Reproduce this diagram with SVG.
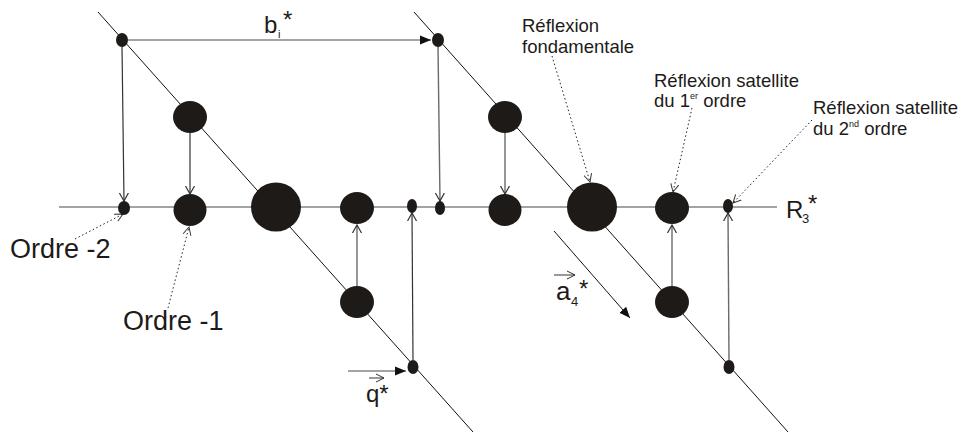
<svg xmlns="http://www.w3.org/2000/svg" width="959" height="433" viewBox="0 0 959 433">
<style>
.dot{fill:#1e1a18}
.diag{stroke:#111;stroke-width:1;fill:none}
.axis{stroke:#858585;stroke-width:1.6;fill:none}
.vk{stroke:#333;stroke-width:1.2;fill:none;marker-end:url(#open)}
.vg{stroke:#6a6a6a;stroke-width:1.4;fill:none;marker-end:url(#open)}
.hg{stroke:#858585;stroke-width:1.6;fill:none;marker-end:url(#fill)}
.lead{stroke:#222;stroke-width:1;stroke-dasharray:1.5 2.5;fill:none;marker-end:url(#openthin)}
.small{stroke:#333;stroke-width:1;fill:none;marker-end:url(#openthin)}
text{font-family:"Liberation Sans",Arial,sans-serif;fill:#1e1a18}
.lbl{font-size:18.5px}
.ord{font-size:27px}
.m{font-size:24px}
</style>
<defs>
<marker id="open" markerUnits="userSpaceOnUse" markerWidth="12" markerHeight="12" refX="8" refY="5" orient="auto" viewBox="0 0 12 10">
<path d="M0,0.5 L8,5 L0,9.5" fill="none" stroke="#333" stroke-width="1.2"/>
</marker>
<marker id="openthin" markerUnits="userSpaceOnUse" markerWidth="12" markerHeight="12" refX="8" refY="5" orient="auto" viewBox="0 0 12 10">
<path d="M0,1 L8,5 L0,9" fill="none" stroke="#333" stroke-width="1"/>
</marker>
<marker id="fill" markerUnits="userSpaceOnUse" markerWidth="12" markerHeight="12" refX="11" refY="4.5" orient="auto" viewBox="0 0 12 9">
<path d="M0,0 L11,4.5 L0,9 z" fill="#111"/>
</marker>
</defs>
<g id="connectors">
<line class="axis" x1="59" y1="207" x2="777" y2="207"/>
<line class="diag" x1="98" y1="12" x2="473" y2="432"/>
<line class="diag" x1="414" y1="12" x2="788" y2="432"/>
<line class="hg" x1="128" y1="40" x2="431" y2="40"/>
<line class="hg" x1="348" y1="371" x2="406" y2="371"/>
<line class="vk" x1="122" y1="46" x2="124" y2="201"/>
<line class="vk" x1="190" y1="133" x2="190" y2="194"/>
<line class="vg" x1="438" y1="46" x2="440" y2="201"/>
<line class="vg" x1="505" y1="133" x2="505" y2="194"/>
<line class="vg" x1="357" y1="286" x2="357" y2="225"/>
<line class="vk" x1="413" y1="360" x2="412" y2="213"/>
<line class="vg" x1="672" y1="286" x2="672" y2="225"/>
<line class="vg" x1="729" y1="360" x2="728" y2="213"/>
<line class="diag" x1="554" y1="231" x2="630" y2="318" marker-end="url(#fill)"/>
<line class="small" x1="369" y1="378" x2="384" y2="378"/>
<line class="small" x1="554" y1="275" x2="575" y2="275"/>
<line class="lead" x1="552" y1="56" x2="590" y2="182"/>
<line class="lead" x1="692" y1="108" x2="673" y2="192"/>
<line class="lead" x1="812" y1="120" x2="733" y2="203"/>
<line class="lead" x1="75" y1="239" x2="123" y2="214"/>
<line class="lead" x1="168" y1="308" x2="189" y2="227"/>
</g>
<g id="node-top-left"><ellipse class="dot" cx="122" cy="40" rx="6" ry="7"/></g>
<g id="node-top-right"><ellipse class="dot" cx="438" cy="40" rx="6" ry="7"/></g>
<g id="node-left-m1"><ellipse class="dot" cx="190" cy="117" rx="17" ry="16"/></g>
<g id="node-right-m1"><ellipse class="dot" cx="505" cy="117" rx="17" ry="16"/></g>
<g id="node-axis-1"><ellipse class="dot" cx="124" cy="208" rx="6" ry="7"/></g>
<g id="node-axis-2"><ellipse class="dot" cx="190" cy="210" rx="16.5" ry="16"/></g>
<g id="node-axis-3"><ellipse class="dot" cx="276" cy="207" rx="25" ry="24.5"/></g>
<g id="node-axis-4"><ellipse class="dot" cx="357" cy="208" rx="17" ry="16"/></g>
<g id="node-axis-5"><ellipse class="dot" cx="412" cy="206" rx="5" ry="7"/></g>
<g id="node-axis-6"><ellipse class="dot" cx="440" cy="208" rx="5" ry="7"/></g>
<g id="node-axis-7"><ellipse class="dot" cx="505" cy="210" rx="16.5" ry="16"/></g>
<g id="node-axis-8"><ellipse class="dot" cx="592" cy="207" rx="25" ry="24.5"/></g>
<g id="node-axis-9"><ellipse class="dot" cx="672" cy="208" rx="17" ry="16"/></g>
<g id="node-axis-10"><ellipse class="dot" cx="728" cy="206" rx="5" ry="7"/></g>
<g id="node-left-p1"><ellipse class="dot" cx="357" cy="302" rx="17" ry="16"/></g>
<g id="node-right-p1"><ellipse class="dot" cx="672" cy="302" rx="17" ry="16"/></g>
<g id="node-bottom-left"><ellipse class="dot" cx="413" cy="367" rx="5.5" ry="7"/></g>
<g id="node-bottom-right"><ellipse class="dot" cx="729" cy="367" rx="5.5" ry="7"/></g>
<g id="labels">
<text class="m" x="264" y="33">b</text>
<text x="278" y="38" font-size="11">i</text>
<text class="m" x="283" y="28">*</text>
<text class="m" x="786" y="218">R</text>
<text x="802" y="223" font-size="13">3</text>
<text class="m" x="808" y="212">*</text>
<text class="m" x="366" y="402">q*</text>
<text x="556" y="300" font-size="26">a</text>
<text x="571" y="306" font-size="13">4</text>
<text class="m" x="579" y="297">*</text>
<text class="lbl" x="522" y="32">Réflexion</text>
<text class="lbl" x="522" y="53">fondamentale</text>
<text class="lbl" x="654" y="87">Réflexion satellite</text>
<text class="lbl" x="654" y="107">du 1<tspan font-size="9" dy="-8">er</tspan><tspan dy="8"> ordre</tspan></text>
<text class="lbl" x="813" y="114">Réflexion satellite</text>
<text class="lbl" x="813" y="135">du 2<tspan font-size="9" dy="-8">nd</tspan><tspan dy="8"> ordre</tspan></text>
<text class="ord" x="10" y="258">Ordre -2</text>
<text class="ord" x="123" y="330">Ordre -1</text>
</g>
</svg>
